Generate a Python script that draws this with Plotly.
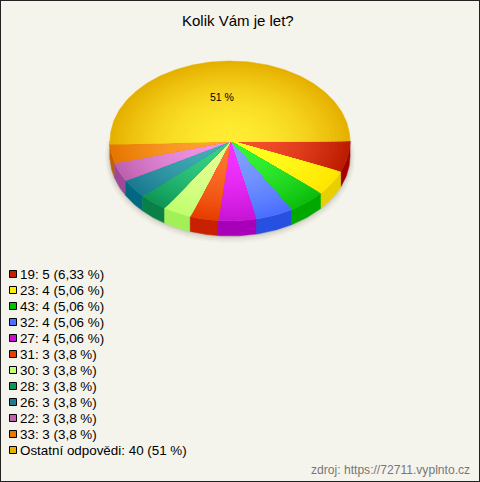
import numpy as np
import plotly.graph_objects as go

# --- data -------------------------------------------------------------
categories = ["19", "23", "43", "32", "27", "31", "30", "28", "26", "22", "33", "Ostatní odpovědi"]
counts = [5, 4, 4, 4, 4, 3, 3, 3, 3, 3, 3, 40]
percent_labels = ["6,33", "5,06", "5,06", "5,06", "5,06", "3,8", "3,8", "3,8", "3,8", "3,8", "3,8", "51"]
inner_colors = ["#F5502E", "#FFFF22", "#38F438", "#80A0FF", "#F433FF", "#FF7430", "#E4FF94",
                "#38D088", "#44AEB4", "#F296EA", "#FFA432", "#FFEC32"]
outer_colors = ["#BC1C00", "#FFE600", "#0CBE0C", "#4A6EFF", "#C614D6", "#E63E00", "#C0FF6E",
                "#0E9656", "#1A7A90", "#BE62AE", "#E67600", "#E6B000"]
side_colors = ["#A00000", "#E8D000", "#00A800", "#2850E0", "#A800B8", "#C82000", "#A2F058",
               "#088048", "#006880", "#A04898", "#C06000", "#B88800"]
legend_colors = ["#C42000", "#FFEE00", "#00C000", "#4C70FF", "#C810D0", "#E83C00", "#C4FF70",
                 "#0C9858", "#1C7C90", "#C064B0", "#E87800", "#E8B000"]

# --- geometry of the tilted pie (in pixel-like axis units) ---------------
CX, CY, RX, RY, DEPTH = 230.0, 141.0, 120.0, 80.0, 15.0
RINGS = 32
BG = "#F5F4EC"


def rgb(h):
    return np.array([int(h[i:i + 2], 16) for i in (1, 3, 5)], dtype=float)


def mix(a, b, t):
    c = rgb(a) * (1 - t) + rgb(b) * t
    return "rgb(%d,%d,%d)" % tuple(np.round(c))


def arc(a0, a1, scale=1.0, dy=0.0):
    n = max(3, int(abs(a1 - a0) / 0.02))
    th = np.linspace(a0, a1, n)
    return CX + RX * scale * np.cos(th), CY + dy + RY * scale * np.sin(th)


def poly(x, y, color, lw=0.5):
    return go.Scatter(x=x, y=y, mode="lines", fill="toself", fillcolor=color,
                      line=dict(width=lw, color=color), hoverinfo="skip", showlegend=False)


fig = go.Figure()

# soft shadow beneath the pie
for grow, alpha in ((5, 0.04), (3.5, 0.06), (2, 0.08), (1, 0.10)):
    th = np.linspace(0, 2 * np.pi, 240)
    fig.add_trace(poly(CX + (RX + grow) * np.cos(th), CY + DEPTH + grow * 0.4 + (RY + grow) * np.sin(th),
                       f"rgba(90,90,80,{alpha})", lw=0))

edges = np.concatenate([[0], np.cumsum(counts)]) / sum(counts) * 2 * np.pi

# side wall, visible on the front half only (drawn from both ends to the middle)
order = sorted(range(len(counts)), key=lambda k: -abs((edges[k] + edges[k + 1]) / 2 - np.pi / 2))
for k in order:
    a0, a1 = edges[k], min(edges[k + 1], np.pi) if edges[k] < np.pi else edges[k]
    if a1 <= a0:
        continue
    x1, y1 = arc(a0, a1)
    x2, y2 = arc(a1, a0, dy=DEPTH)
    fig.add_trace(poly(np.r_[x1, x2, x1[0]], np.r_[y1, y2, y1[0]], side_colors[k]))

# top face: each wedge is layered from rim to centre for a radial gradient
for k in range(len(counts)):
    a0, a1 = edges[k], edges[k + 1]
    for i in range(RINGS):
        s = 1 - i / RINGS
        x, y = arc(a0, a1, scale=s)
        fig.add_trace(poly(np.r_[CX, x, CX], np.r_[CY, y, CY],
                           mix(inner_colors[k], outer_colors[k], s ** 1.9)))

# percentage label
big = counts.index(max(counts))
fig.add_annotation(x=222, y=97, text=f"{percent_labels[big]} %", showarrow=False,
                   font=dict(family="Liberation Sans", size=10.5, color="#000"))

# legend rows
legend_y = [274 + 16 * i for i in range(len(categories))]
fig.add_trace(go.Scatter(
    x=[13] * len(categories), y=legend_y, mode="markers",
    marker=dict(symbol="square", size=7, color=legend_colors, line=dict(color="#000", width=1)),
    hoverinfo="skip", showlegend=False))
for name, n, p, y in zip(categories, counts, percent_labels, legend_y):
    fig.add_annotation(x=20, y=y, xanchor="left", text=f"{name}: {n} ({p} %)", showarrow=False,
                       xshift=-2, font=dict(family="Liberation Sans", size=13.4, color="#000"))

fig.add_annotation(x=238, y=20, text="Kolik Vám je let?", showarrow=False,
                   font=dict(family="Liberation Sans", size=15, color="#000"))
fig.add_annotation(x=470, y=470, xanchor="right", text="zdroj: https://72711.vyplnto.cz", showarrow=False,
                   xshift=2, font=dict(family="Liberation Sans", size=12.1, color="#777"))

fig.update_layout(
    width=480, height=482, margin=dict(l=0, r=0, t=0, b=0), showlegend=False,
    paper_bgcolor=BG, plot_bgcolor=BG,
    xaxis=dict(range=[0, 480], visible=False, fixedrange=True),
    yaxis=dict(range=[482, 0], visible=False, fixedrange=True),
    shapes=[dict(type="rect", xref="paper", yref="paper", x0=0, x1=1, y0=0, y1=1,
                 line=dict(color="#222", width=2), layer="above")],
)
fig.write_html("out.html", config={"displayModeBar": False},
               post_script="document.body.style.margin='0';document.body.style.overflow='hidden';")
